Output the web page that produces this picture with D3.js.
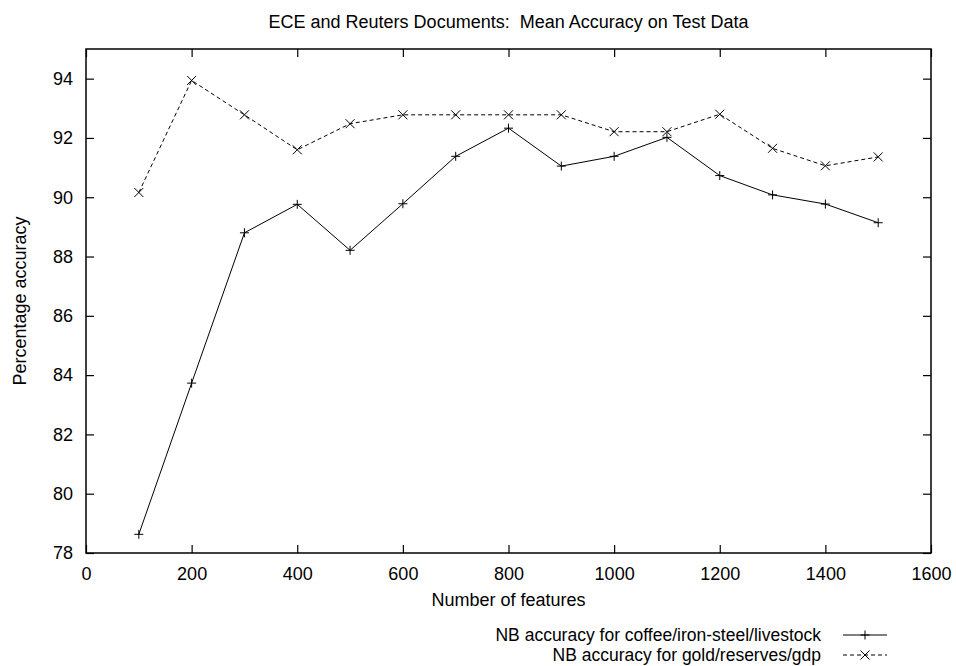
<!DOCTYPE html>
<html>
<head>
<meta charset="utf-8">
<script src="https://cdn.jsdelivr.net/npm/d3@7"></script>
<style>
  html, body { margin: 0; padding: 0; background: #fff; }
  svg text { font-family: "Liberation Sans", Arial, sans-serif; fill: #000; white-space: pre; }
</style>
</head>
<body>
<div id="chart"></div>
<script>
// Mean accuracy vs. number of features, two NB runs.
const features = [100, 200, 300, 400, 500, 600, 700, 800, 900, 1000, 1100, 1200, 1300, 1400, 1500];
const coffeeAcc = [78.63, 83.73, 88.80, 89.76, 88.21, 89.78, 91.38, 92.33, 91.05, 91.38, 92.02, 90.73, 90.08, 89.77, 89.14];
const goldAcc = [90.16, 93.94, 92.78, 91.60, 92.48, 92.78, 92.78, 92.78, 92.78, 92.21, 92.21, 92.80, 91.65, 91.06, 91.36];
const xTicks = [0, 200, 400, 600, 800, 1000, 1200, 1400, 1600];
const yTicks = [78, 80, 82, 84, 86, 88, 90, 92, 94];
const seriesNames = ['NB accuracy for coffee/iron-steel/livestock', 'NB accuracy for gold/reserves/gdp'];

(function(){
  const width = 956, height = 666;
  const margin = {top: 49, right: 25, bottom: 113, left: 86};
  const innerW = width - margin.left - margin.right;
  const innerH = height - margin.top - margin.bottom;

  const svg = d3.select('#chart').append('svg')
    .attr('width', width).attr('height', height);

  const x = d3.scaleLinear().domain([0, 1600]).range([0, innerW]);
  const y = d3.scaleLinear().domain([78, 95]).range([innerH, 0]);

  const plot = svg.append('g').attr('transform', `translate(${margin.left},${margin.top})`);

  // Axes with inward ticks on all four sides (gnuplot style).
  const tickLen = 8;
  const fs = 18;
  const axisStyle = g => {
    g.select('.domain').remove();
    g.selectAll('line').attr('stroke', '#000').attr('stroke-width', 1.2);
  };

  plot.append('g').attr('transform', `translate(0,${innerH})`)
    .call(d3.axisBottom(x).tickValues(xTicks).tickSize(-tickLen).tickPadding(tickLen + 6).tickFormat(d3.format('d')))
    .call(axisStyle)
    .selectAll('text').attr('font-size', fs).attr('font-family', '"Liberation Sans", Arial, sans-serif');

  plot.append('g')
    .call(d3.axisTop(x).tickValues(xTicks).tickSize(-tickLen).tickFormat(''))
    .call(axisStyle);

  plot.append('g')
    .call(d3.axisLeft(y).tickValues(yTicks).tickSize(-tickLen).tickPadding(tickLen + 5).tickFormat(d3.format('d')))
    .call(axisStyle)
    .selectAll('text').attr('font-size', fs).attr('font-family', '"Liberation Sans", Arial, sans-serif');

  plot.append('g').attr('transform', `translate(${innerW},0)`)
    .call(d3.axisRight(y).tickValues(yTicks).tickSize(-tickLen).tickFormat(''))
    .call(axisStyle);

  plot.append('rect')
    .attr('width', innerW).attr('height', innerH)
    .attr('fill', 'none').attr('stroke', '#000').attr('stroke-width', 1.5);

  // Lines and point markers.
  const series = [
    {name: seriesNames[0], values: coffeeAcc, dash: null, marker: 'plus'},
    {name: seriesNames[1], values: goldAcc, dash: '4,3', marker: 'cross'}
  ];

  const line = d3.line().x(d => x(d[0])).y(d => y(d[1]));
  const ms = 4.5;
  const markerPath = (type, cx, cy) => type === 'plus'
    ? `M${cx - ms},${cy}H${cx + ms}M${cx},${cy - ms}V${cy + ms}`
    : `M${cx - ms},${cy - ms}L${cx + ms},${cy + ms}M${cx - ms},${cy + ms}L${cx + ms},${cy - ms}`;

  series.forEach(s => {
    const pts = features.map((f, i) => [f, s.values[i]]);
    plot.append('path')
      .attr('d', line(pts))
      .attr('fill', 'none').attr('stroke', '#000').attr('stroke-width', 1)
      .attr('stroke-dasharray', s.dash);
    plot.append('g').selectAll('path')
      .data(pts).join('path')
      .attr('d', d => markerPath(s.marker, x(d[0]), y(d[1])))
      .attr('stroke', '#000').attr('stroke-width', 1).attr('fill', 'none');
  });

  // Title and axis labels.
  svg.append('text')
    .attr('x', margin.left + innerW / 2).attr('y', 28)
    .attr('text-anchor', 'middle').attr('font-size', fs)
    .text('ECE and Reuters Documents:  Mean Accuracy on Test Data');

  svg.append('text')
    .attr('x', margin.left + innerW / 2).attr('y', 606)
    .attr('text-anchor', 'middle').attr('font-size', fs)
    .text('Number of features');

  svg.append('text')
    .attr('transform', `translate(26,${margin.top + innerH / 2}) rotate(-90)`)
    .attr('text-anchor', 'middle').attr('font-size', fs)
    .text('Percentage accuracy');

  // Legend at the bottom right.
  const legend = svg.append('g');
  series.forEach((s, i) => {
    const ly = 635 + i * 20;
    legend.append('text')
      .attr('x', 821).attr('y', ly + 6)
      .attr('text-anchor', 'end').attr('font-size', 17.5)
      .text(s.name);
    legend.append('line')
      .attr('x1', 843).attr('x2', 887).attr('y1', ly).attr('y2', ly)
      .attr('stroke', '#000').attr('stroke-width', 1)
      .attr('stroke-dasharray', s.dash);
    legend.append('path')
      .attr('d', markerPath(s.marker, 865, ly))
      .attr('stroke', '#000').attr('stroke-width', 1).attr('fill', 'none');
  });
})();
</script>
</body>
</html>
